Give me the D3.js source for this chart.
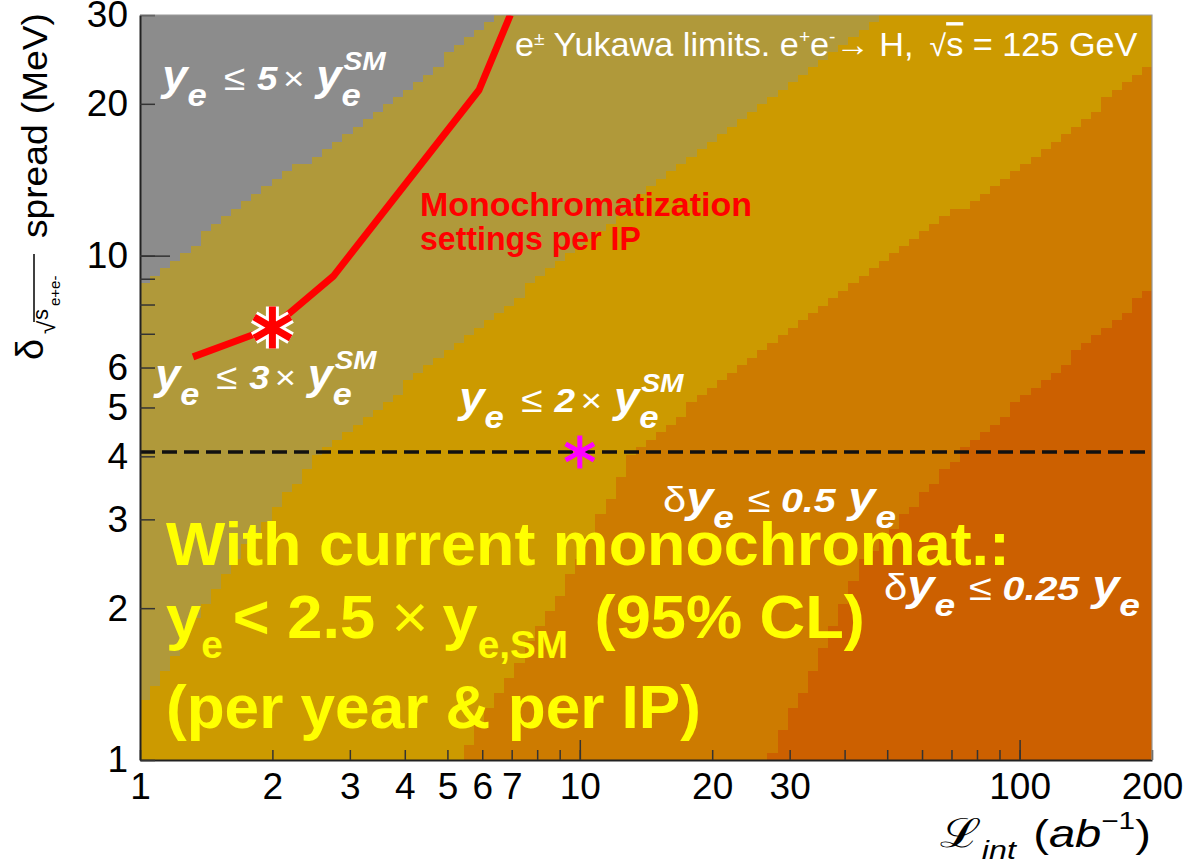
<!DOCTYPE html>
<html>
<head>
<meta charset="utf-8">
<script src="https://cdn.jsdelivr.net/npm/d3@7"></script>
<style>
body { margin: 0; background: #fff; }
svg { display: block; font-family: "Liberation Sans", Arial, Helvetica, sans-serif; }
</style>
</head>
<body>
<svg id="chart" width="1189" height="862"></svg>
<script>
// axis ticks
var lumiTicks = [1, 2, 3, 4, 5, 6, 7, 8, 9, 10, 20, 30, 40, 50, 60, 70, 80, 90, 100, 200];
var lumiLabels = [1, 2, 3, 4, 5, 6, 7, 10, 20, 30, 100, 200];
var spreadTicks = [1, 2, 3, 4, 5, 6, 7, 8, 9, 10, 20, 30];
var spreadLabels = [1, 2, 3, 4, 5, 6, 10, 20, 30];

// contour boundaries (lumi in ab^-1, spread in MeV)
var lim5L = [1, 1.37, 2.11, 3.9, 6.5];
var lim5D = [8.74, 10.8, 14.3, 20.65, 30];
var lim3L = [1, 1.15, 1.37, 1.6, 2.11, 2.57, 3.9, 22.9, 50.2];
var lim3D = [1.25, 1.5, 2.0, 2.4, 3.28, 4.09, 5.41, 18.6, 30];
var lim2L = [5.3, 9.8, 13.2, 21.4, 138.6, 200];
var lim2D = [1, 2.42, 4.09, 5.68, 18.6, 23.9];
var lim05L = [27.1, 43.4, 73.6, 200];
var lim05D = [1, 2.42, 4.09, 8.6];

// monochromatization settings per IP
var monoL = [1.32, 2.0, 2.75, 5.9, 6.95];
var monoD = [6.3, 7.2, 9.1, 21.3, 30];
var nominalL = [2];
var nominalD = [7.2];
var currentL = [10];
var currentD = [4.08];

var regionColors = ['#cc6000', '#cd7b00', '#cc9a00', '#b0993a', '#8c8c8c'];

var svg = d3.select('#chart');
var x = d3.scaleLog().domain([1, 200]).range([140, 1152]);
var y = d3.scaleLog().domain([1, 30]).range([760, 15]);
var x0 = x.range()[0], x1 = x.range()[1], yT = y.range()[1], yB = y.range()[0];

svg.append('defs').append('clipPath').attr('id', 'plotclip')
    .append('rect').attr('x', x0).attr('y', yT).attr('width', x1 - x0).attr('height', yB - yT);

function pts(L, D) {
    return L.map(function (l, i) { return [x(l), y(D[i])]; });
}

// filled regions, outer to inner
var polys = [
    pts(lim05L, lim05D).concat([[x(200), y(30)], [x(1), y(30)], [x(1), y(1)]]),
    pts(lim2L, lim2D).concat([[x(200), y(30)], [x(1), y(30)], [x(1), y(1)]]),
    pts(lim3L, lim3D).concat([[x(1), y(30)]]),
    pts(lim5L, lim5D).concat([[x(1), y(30)]])
];

// histogram-like cells, like the binned original
var nx = 100, ny = 100;
var binX = d3.scaleLinear().domain([0, nx]).range([x0, x1]);
var binY = d3.scaleLinear().domain([0, ny]).range([yT, yB]);
var cells = svg.append('g').attr('clip-path', 'url(#plotclip)').attr('shape-rendering', 'crispEdges');
var j, i, level, start, prev, k;
for (j = 0; j < ny; j += 1) {
    prev = -1;
    start = 0;
    for (i = 0; i <= nx; i += 1) {
        level = -1;
        if (i < nx) {
            level = 0;
            for (k = 0; k < polys.length; k += 1) {
                if (d3.polygonContains(polys[k], [binX(i + 0.5), binY(j + 0.5)])) {
                    level = k + 1;
                }
            }
        }
        if (level !== prev) {
            if (prev >= 0) {
                cells.append('rect')
                    .attr('x', Math.round(binX(start)))
                    .attr('y', Math.round(binY(j)))
                    .attr('width', Math.round(binX(i)) - Math.round(binX(start)))
                    .attr('height', Math.round(binY(j + 1)) - Math.round(binY(j)))
                    .style('fill', regionColors[prev]);
            }
            start = i;
            prev = level;
        }
    }
}

var plot = svg.append('g').attr('clip-path', 'url(#plotclip)');

// current spread
plot.append('line')
    .attr('x1', x(1)).attr('x2', x(200))
    .attr('y1', y(currentD[0])).attr('y2', y(currentD[0]))
    .style('stroke', '#111').style('stroke-width', 3.5)
    .style('stroke-dasharray', '15,7');

// red line
plot.append('path')
    .datum(pts(monoL, monoD))
    .attr('d', d3.line())
    .style('fill', 'none').style('stroke', '#ff0000').style('stroke-width', 7)
    .style('stroke-linejoin', 'round');

var star = d3.symbol().type(d3.symbolAsterisk);
plot.selectAll('.nomhalo').data(pts(nominalL, nominalD)).enter().append('path')
    .attr('transform', function (d) { return 'translate(' + d[0] + ',' + d[1] + ')'; })
    .attr('d', star.size(1250)())
    .style('fill', 'none').style('stroke', '#fff').style('stroke-width', 13);
plot.selectAll('.nom').data(pts(nominalL, nominalD)).enter().append('path')
    .attr('transform', function (d) { return 'translate(' + d[0] + ',' + d[1] + ')'; })
    .attr('d', star.size(1250)())
    .style('fill', 'none').style('stroke', '#ff0000').style('stroke-width', 7);
plot.selectAll('.cur').data(pts(currentL, currentD)).enter().append('path')
    .attr('transform', function (d) { return 'translate(' + d[0] + ',' + d[1] + ')'; })
    .attr('d', star.size(760)())
    .style('fill', 'none').style('stroke', '#ff00ff').style('stroke-width', 5);

// text helpers
function rich(parent, parts, fill) {
    var t = parent.append('text').attr('x', 0).attr('y', 0).style('fill', fill);
    parts.forEach(function (p) {
        var s = t.append('tspan').text(p.t)
            .attr('font-size', p.fs)
            .attr('font-style', p.it ? 'italic' : 'normal')
            .attr('font-weight', p.b ? 'bold' : 'normal');
        if (p.dx) { s.attr('dx', p.dx); }
        if (p.dy) { s.attr('dy', p.dy); }
        if (p.deco) { s.style('text-decoration', p.deco); }
    });
    return t;
}
function place(t, left, baseline, width) {
    var bb = t.node().getBBox();
    var s = width ? width / bb.width : 1;
    t.attr('transform', 'translate(' + left + ',' + baseline + ') scale(' + s + ',1) translate(' + (-bb.x) + ',0)');
}

function yeLabel(n) {
    return [
        {t: 'y', fs: 42, it: 1, b: 1},
        {t: 'e', fs: 32, it: 1, b: 1, dy: 16},
        {t: '\u2264', fs: 36, dx: 16, dy: -16},
        {t: n, fs: 34, it: 1, b: 1, dx: 11},
        {t: '\u00d7', fs: 34, dx: 5},
        {t: 'y', fs: 42, it: 1, b: 1, dx: 11},
        {t: 'e', fs: 32, it: 1, b: 1, dy: 16},
        {t: 'SM', fs: 26, it: 1, b: 1, dx: -16, dy: -36}
    ];
}
function dyLabel(n) {
    return [
        {t: '\u03b4', fs: 36},
        {t: 'y', fs: 42, it: 1, b: 1},
        {t: 'e', fs: 32, it: 1, b: 1, dy: 16},
        {t: '\u2264', fs: 36, dx: 12, dy: -16},
        {t: n, fs: 34, it: 1, b: 1, dx: 9},
        {t: 'y', fs: 42, it: 1, b: 1, dx: 11},
        {t: 'e', fs: 32, it: 1, b: 1, dy: 16}
    ];
}

var ann = svg.append('g');
place(rich(ann, yeLabel('5'), '#fff'), 160, 90, 227);
place(rich(ann, yeLabel('3'), '#fff'), 153, 389, 225);
place(rich(ann, yeLabel('2'), '#fff'), 457, 412, 228);
place(rich(ann, dyLabel('0.5'), '#fff'), 663, 512, 233);
place(rich(ann, dyLabel('0.25'), '#fff'), 884, 600, 256);

place(rich(ann, [
    {t: 'e', fs: 34},
    {t: '\u00b1', fs: 19, dy: -11},
    {t: ' Yukawa limits. e', fs: 34, dy: 11},
    {t: '+', fs: 19, dy: -13},
    {t: 'e', fs: 34, dy: 13},
    {t: '-', fs: 19, dy: -13},
    {t: '\u2192 H,', fs: 34, dy: 13},
    {t: '\u221a', fs: 30, dx: 16},
    {t: 's', fs: 34, deco: 'overline'},
    {t: ' = 125 GeV', fs: 34}
], '#fff'), 515, 56, 623);

place(rich(ann, [{t: 'Monochromatization', fs: 33, b: 1}], '#ff0000'), 420, 216, 332);
place(rich(ann, [{t: 'settings per IP', fs: 33, b: 1}], '#ff0000'), 420, 250, 221);

place(rich(ann, [{t: 'With current monochromat.:', fs: 62, b: 1}], '#ffff00'), 166, 565, 844);
place(rich(ann, [
    {t: 'y', fs: 62, b: 1},
    {t: 'e', fs: 38, b: 1, dy: 20},
    {t: '< 2.5', fs: 62, b: 1, dx: 10, dy: -20},
    {t: '\u00d7', fs: 62, dx: 16},
    {t: 'y', fs: 62, b: 1, dx: 14},
    {t: 'e,SM', fs: 38, b: 1, dy: 20},
    {t: '(95% CL)', fs: 62, b: 1, dx: 26, dy: -20}
], '#ffff00'), 166, 638, 699);
place(rich(ann, [{t: '(per year & per IP)', fs: 62, b: 1}], '#ffff00'), 166, 728, 535);

// axes
function styleAxis(g) {
    g.attr('font-family', '"Liberation Sans", Arial, sans-serif').attr('font-size', 37);
    g.selectAll('.tick line').style('stroke', '#333').style('stroke-width', 1.5);
    g.selectAll('.tick text').style('fill', '#000');
}
var gx = svg.append('g').attr('transform', 'translate(0,' + yB + ')')
    .call(d3.axisBottom(x).tickValues(lumiTicks).tickSize(-10).tickSizeOuter(0).tickPadding(13)
        .tickFormat(function (d) { return lumiLabels.indexOf(d) >= 0 ? d : ''; }));
styleAxis(gx);
gx.select('.domain').style('stroke', '#222').style('stroke-width', 2);
var gx2 = svg.append('g').attr('transform', 'translate(0,' + yB + ')')
    .call(d3.axisBottom(x).tickValues([10, 100]).tickSize(-20).tickFormat(''));
styleAxis(gx2);
gx2.select('.domain').remove();

var gy = svg.append('g').attr('transform', 'translate(' + x0 + ',0)')
    .call(d3.axisLeft(y).tickValues(spreadTicks).tickSize(-15).tickSizeOuter(0).tickPadding(12)
        .tickFormat(function (d) { return spreadLabels.indexOf(d) >= 0 ? d : ''; }));
styleAxis(gy);
gy.select('.domain').style('stroke', '#222').style('stroke-width', 2);
var gy2 = svg.append('g').attr('transform', 'translate(' + x0 + ',0)')
    .call(d3.axisLeft(y).tickValues([10]).tickSize(-30).tickFormat(''));
styleAxis(gy2);
gy2.select('.domain').remove();

// top and right frame
svg.append('path')
    .attr('d', 'M' + x0 + ',' + yT + 'H' + x1 + 'V' + yB)
    .style('fill', 'none').style('stroke', '#999').style('stroke-width', 1.2);

// axis titles
var xt = rich(svg, [
    {t: '\u2112', fs: 40},
    {t: 'int', fs: 26, it: 1, dy: 12},
    {t: '(', fs: 38, dx: 14, dy: -12},
    {t: 'ab', fs: 38, it: 1},
    {t: '\u22121', fs: 24, dy: -18},
    {t: ')', fs: 38, dy: 18}
], '#000');
place(xt, 940, 847, 210);

var yt = svg.append('g').attr('transform', 'translate(47,362) rotate(-90)');
yt.append('text').attr('x', 2).attr('y', -4).attr('font-size', 38).text('\u03b4');
yt.append('text').attr('x', 28).attr('y', 8).attr('font-size', 24).text('\u221a');
yt.append('text').attr('x', 42).attr('y', 1).attr('font-size', 22).text('s');
yt.append('text').attr('x', 56).attr('y', 13).attr('font-size', 15).text('e+e-');
yt.append('line').attr('x1', 40).attr('x2', 108).attr('y1', -13).attr('y2', -13)
    .style('stroke', '#000').style('stroke-width', 1.5);
var spreadTitle = yt.append('text').attr('x', 0).attr('y', 0).attr('font-size', 36).text('spread (MeV)');
place(spreadTitle, 124, 0, 225);
</script>
</body>
</html>
